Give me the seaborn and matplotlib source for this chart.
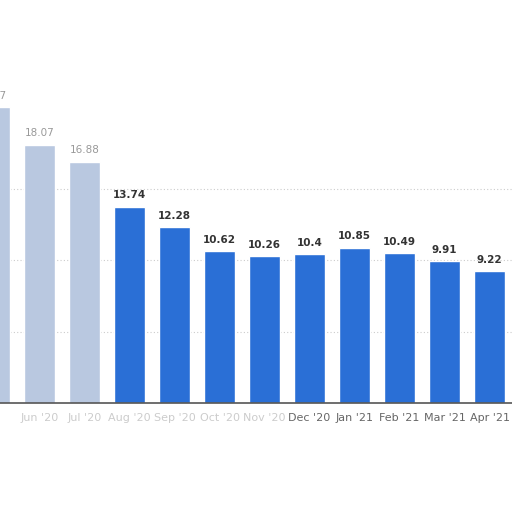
import matplotlib
matplotlib.use("Agg")
import matplotlib.pyplot as plt
import pandas as pd
import seaborn as sns

# ==================== data ====================
months = ["May '20", "Jun '20", "Jul '20", "Aug '20", "Sep '20", "Oct '20",
          "Nov '20", "Dec '20", "Jan '21", "Feb '21", "Mar '21", "Apr '21"]
values = [20.7, 18.07, 16.88, 13.74, 12.28, 10.62,
          10.26, 10.4, 10.85, 10.49, 9.91, 9.22]
labels = ["20.7", "18.07", "16.88", "13.74", "12.28", "10.62",
          "10.26", "10.4", "10.85", "10.49", "9.91", "9.22"]

df = pd.DataFrame({"month": months, "value": values})

sns.set_theme(style="white")
plt.rcParams['font.family'] = ['DejaVu Sans']

fig = plt.figure(figsize=(5.12, 5.12), dpi=100)
ax = fig.add_axes([0.0, 0.213, 1.0, 0.787])

bar_color = "#2a6fd6"
faded = "#b9c8e0"
palette = [faded, faded, faded] + [bar_color] * 9
sns.barplot(data=df, x="month", y="value", hue="month", palette=palette,
            legend=False, width=0.69, saturation=1, ax=ax)

ax.set_xlim(0.122, 11.5)
ax.set_ylim(0, 28.2)

# dotted grid lines (only lower ones are visible in the reference)
for y in [5, 10, 15]:
    ax.axhline(y, color="#cccccc", linestyle=(0, (1, 2)), linewidth=0.8, zorder=0)

# value labels
for i, (v, lab) in enumerate(zip(values, labels)):
    col = "#999999" if i < 3 else "#333333"
    w = "normal" if i < 3 else "bold"
    ax.text(i, v + 0.45, lab, ha="center", va="bottom", fontsize=7.5,
            color=col, fontweight=w)

# axis styling
for s in ["top", "right", "left"]:
    ax.spines[s].set_visible(False)
ax.spines["bottom"].set_color("#555555")
ax.spines["bottom"].set_linewidth(1.2)
ax.set_yticks([])
ax.set_xlabel("")
ax.set_ylabel("")
ax.tick_params(axis="x", length=0, pad=7, labelsize=8)
for i, t in enumerate(ax.get_xticklabels()):
    t.set_color("#cccccc" if i < 7 else "#666666")

fig.savefig("out.png", dpi=100)
